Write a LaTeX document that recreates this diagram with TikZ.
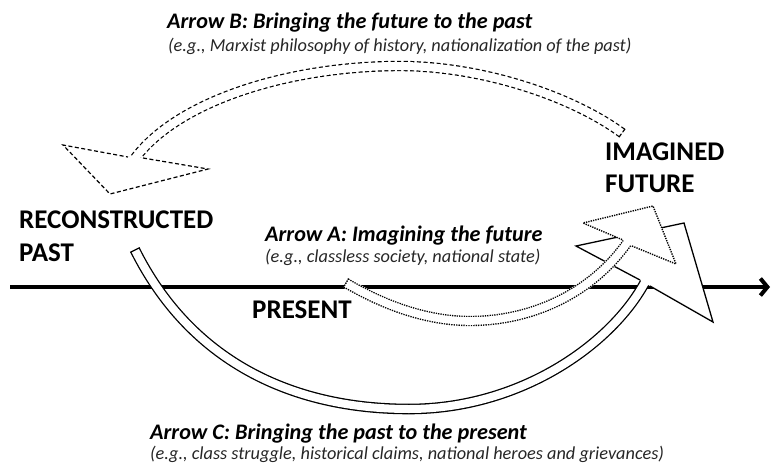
\documentclass[tikz,border=0pt]{standalone}
\usepackage{fontspec}
\setmainfont{Carlito}
\usetikzlibrary{calc,arrows.meta}
\tikzset{
  lab/.style={inner sep=0pt, anchor=base west, font=\fontsize{27}{31}\selectfont\bfseries},
  ttl/.style={inner sep=0pt, anchor=base west, font=\fontsize{22.2}{26}\selectfont\bfseries\itshape},
  ex/.style={inner sep=0pt, anchor=base west, font=\fontsize{18.3}{22}\selectfont\itshape, text=black!85},
  solidband/.style={draw=black, line width=1.3pt, double=white, double distance=8pt},
  dotpat/.style={dash pattern=on 1.3pt off 1.1pt},
  dashpat/.style={dash pattern=on 4pt off 2.5pt},
  dottedband/.style={draw=white, line width=7.6pt,
    preaction={draw=white, line width=10.4pt},
    preaction={draw=black, line width=10.4pt, dotpat}},
  dashedband/.style={draw=white, line width=8pt,
    preaction={draw=white, line width=10.4pt},
    preaction={draw=black, line width=10.4pt, dashpat}},
  solidedge/.style={draw=black, line width=1.3pt, line join=miter},
  dottededge/.style={draw=black, line width=1.4pt, dotpat},
  dashededge/.style={draw=black, line width=1.2pt, dashpat},
  timeline/.style={line width=4pt, -{Straight Barb[length=7pt,width=17pt]}}
}
\begin{document}
\begin{tikzpicture}[x=1pt, y=-1pt]
\useasboundingbox (0,0) rectangle (772,464);

% timeline
\coordinate (t0) at (10,287);
\coordinate (t1) at (770,287);
\draw[timeline] (t0) -- (t1);

% ---------- Arrow C (solid) ----------
\coordinate (c0) at (135,250);
\coordinate (c1) at (190,360);
\coordinate (c2) at (290,409);
\coordinate (c3) at (409,409);
\coordinate (c4) at (520,409);
\coordinate (c5) at (610,345);
\coordinate (c6) at (644,284);
\coordinate (c7) at ($(c6)!-6pt!(c5)$);
\draw[solidband] (c0) .. controls (c1) and (c2) .. (c3) .. controls (c4) and (c5) .. (c6) -- (c7);
\coordinate (cT1) at ($(c0)!5.3pt!90:(c1)$);
\coordinate (cT2) at ($(c0)!5.3pt!-90:(c1)$);
\draw[solidedge] (cT1) -- (cT2);
\coordinate (cL) at (640,280);
\coordinate (cA) at (576,246);
\coordinate (cTip) at (684,223);
\coordinate (cB) at (713,322);
\coordinate (cR) at (650,286);
\fill[white] (cL) -- (cA) -- (cTip) -- (cB) -- (cR) -- cycle;
\draw[solidedge] (cR) -- (cB) -- (cTip) -- (cA) -- (cL);

% ---------- Arrow A (dotted) ----------
\coordinate (a0) at (346,283);
\coordinate (a1) at (375,300);
\coordinate (a2) at (420,321);
\coordinate (a3) at (470,321);
\coordinate (a4) at (530,321);
\coordinate (a5) at (590,295);
\coordinate (a6) at (627,243);
\coordinate (a7) at ($(a6)!-6pt!(a5)$);
\draw[dottedband] (a0) .. controls (a1) and (a2) .. (a3) .. controls (a4) and (a5) .. (a6) -- (a7);
\coordinate (aT1) at ($(a0)!5.2pt!90:(a1)$);
\coordinate (aT2) at ($(a0)!5.2pt!-90:(a1)$);
\draw[dottededge] (aT1) -- (aT2);
\coordinate (aL) at (623,240);
\coordinate (aA) at (583,223);
\coordinate (aTip) at (653,206);
\coordinate (aB) at (676,264);
\coordinate (aR) at (632,246);
\fill[white] (aL) -- (aA) -- (aTip) -- (aB) -- (aR) -- cycle;
\draw[dottededge] (aR) -- (aB) -- (aTip) -- (aA) -- (aL);

% ---------- Arrow B (dashed) ----------
\coordinate (b0) at (622,133);
\coordinate (b1) at (570,95);
\coordinate (b2) at (480,66);
\coordinate (b3) at (400,66);
\coordinate (b4) at (290,66);
\coordinate (b5) at (180,100);
\coordinate (b6) at (136,157);
\coordinate (b7) at ($(b6)!-6pt!(b5)$);
\draw[dashedband] (b0) .. controls (b1) and (b2) .. (b3) .. controls (b4) and (b5) .. (b6) -- (b7);
\coordinate (bT1) at ($(b0)!5.2pt!90:(b1)$);
\coordinate (bT2) at ($(b0)!5.2pt!-90:(b1)$);
\draw[dashededge] (bT1) -- (bT2);
\coordinate (bL) at (128,157);
\coordinate (bA) at (63,145);
\coordinate (bTip) at (110,194);
\coordinate (bB) at (208,169);
\coordinate (bR) at (143,158);
\fill[white] (bL) -- (bA) -- (bTip) -- (bB) -- (bR) -- cycle;
\draw[dashededge] (bR) -- (bB) -- (bTip) -- (bA) -- (bL);

% ---------- texts ----------
\node[lab] (recon) at (19,228) {RECONSTRUCTED};
\node[lab] (past) at (19,261) {PAST};
\node[lab] (imag) at (605,160) {IMAGINED};
\node[lab] (fut) at (605,192) {FUTURE};
\node[lab] (pres) at (252,318) {PRESENT};
\node[ttl] (tB) at (167,28) {Arrow B: Bringing the future to the past};
\node[ex] (eB) at (168,51) {(e.g., Marxist philosophy of history, nationalization of the past)};
\node[ttl] (tA) at (265,241) {Arrow A: Imagining the future};
\node[ex] (eA) at (265,262) {(e.g., classless society, national state)};
\node[ttl] (tC) at (150,439) {Arrow C: Bringing the past to the present};
\node[ex] (eC) at (150,459) {(e.g., class struggle, historical claims, national heroes and grievances)};
\end{tikzpicture}
\end{document}
